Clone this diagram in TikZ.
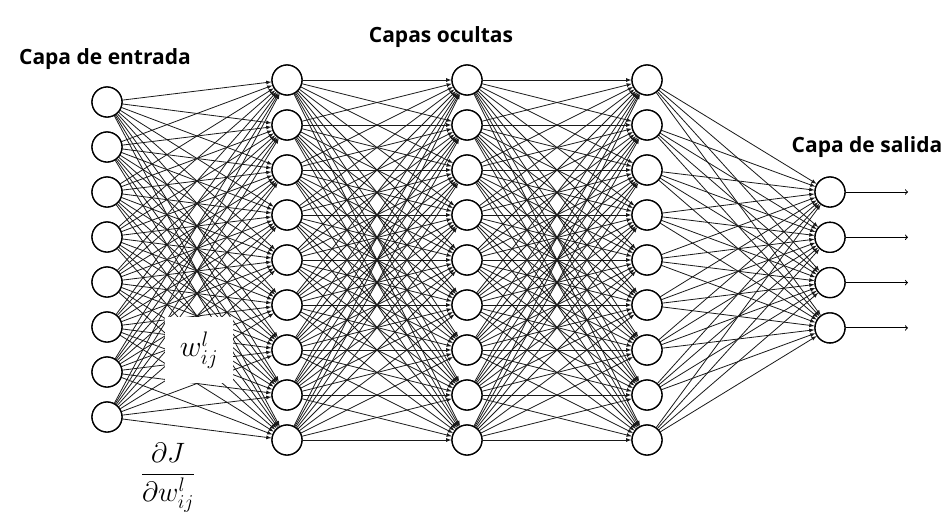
\documentclass[tikz,border=0pt]{standalone}
\usepackage{fix-cm}
\usepackage{amsmath}
\usepackage{fontspec}
\newfontfamily\capafont{Open Sans}
\usetikzlibrary{arrows,positioning}

\begin{document}
\begin{tikzpicture}[x=1pt,y=-1pt,
                   neuron/.style={circle,draw,fill=white,line width=1.3pt,
                   minimum size=30pt,inner sep=0pt},
                   conn/.style={draw,line width=0.8pt,black!90,-latex},
                   layertitle/.style={font=\capafont\bfseries\fontsize{21}{25}\selectfont},
                   every node/.style = {align=center}]
  \useasboundingbox (0,0) rectangle (951,528);
  % neurons
  \foreach \i in {1,...,8}
    \node[neuron] (in-\i) at (107,{102+45*(\i-1)}) {};
  \foreach \l/\x in {1/287,2/467,3/647}
    \foreach \j in {1,...,9}
      \node[neuron] (h\l-\j) at (\x,{80+45*(\j-1)}) {};
  \foreach \k in {1,...,4}
    \node[neuron] (out-\k) at (830,{192+45.3*(\k-1)}) {};
  % connections
  \foreach \i in {1,...,8}
    \foreach \j in {1,...,9}
      \draw[conn] (in-\i) -- (h1-\j);
  \foreach \a/\b in {1/2,2/3}
    \foreach \i in {1,...,9}
      \foreach \j in {1,...,9}
        \draw[conn] (h\a-\i) -- (h\b-\j);
  \foreach \i in {1,...,9}
    \foreach \k in {1,...,4}
      \draw[conn] (h3-\i) -- (out-\k);
  % redraw neurons over the tips
  \foreach \i in {1,...,8}
    \node[neuron] at (in-\i) {};
  \foreach \l in {1,2,3}
    \foreach \j in {1,...,9}
      \node[neuron] at (h\l-\j) {};
  \foreach \k in {1,...,4}
    \node[neuron] at (out-\k) {};
  % outputs
  \foreach \k in {1,...,4} {
    \coordinate (y-\k) at (908,{192+45.3*(\k-1)});
    \draw[line width=1pt,->] (out-\k) -- (y-\k);
  }
  % titles
  \node[layertitle] (entrada) at (105,59) {Capa de entrada};
  \node[layertitle] (ocultas) at (441,37) {Capas ocultas};
  \node[layertitle] (salida) at (867,147) {Capa de salida};
  % weight and gradient
  \node[fill=white,minimum width=68pt,minimum height=66pt,
        font=\fontsize{30}{36}\selectfont] (peso) at (199,350) {$w^l_{ij}$};
  \node[font=\fontsize{28}{34}\selectfont] (grad) at (168,478)
    {$\dfrac{\partial J}{\partial w^l_{ij}}$};
\end{tikzpicture}
\end{document}
